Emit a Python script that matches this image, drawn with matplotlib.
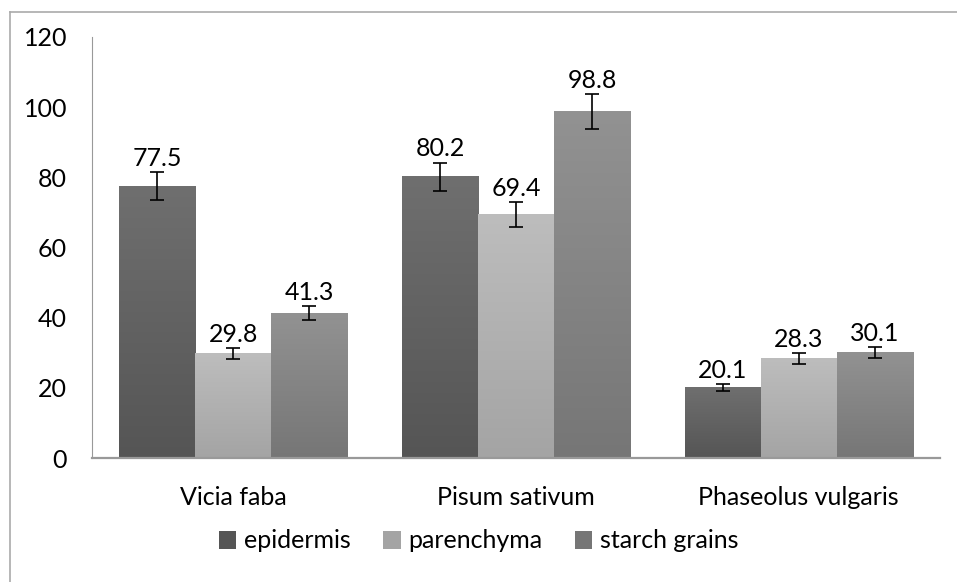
import numpy as np
import matplotlib.pyplot as plt
from matplotlib.colors import LinearSegmentedColormap
from matplotlib.lines import Line2D
from matplotlib.patches import Patch

categories = ['Vicia faba', 'Pisum sativum', 'Phaseolus vulgaris']
series = ['epidermis', 'parenchyma', 'starch grains']
values = {
    'epidermis': [77.5, 80.2, 20.1],
    'parenchyma': [29.8, 69.4, 28.3],
    'starch grains': [41.3, 98.8, 30.1],
}
errors = {
    'epidermis': [3.9, 4.0, 1.1],
    'parenchyma': [1.6, 3.5, 1.5],
    'starch grains': [2.0, 5.0, 1.6],
}
yticks = [0, 20, 40, 60, 80, 100, 120]

# (bottom, top) colours of the gradient fill
grads = {
    'epidermis': ('#555555', '#6f6f6f'),
    'parenchyma': ('#a4a4a4', '#bdbdbd'),
    'starch grains': ('#767676', '#929292'),
}

plt.rcParams['font.family'] = ['Lato', 'DejaVu Sans']
fs = 18

W, H = 957, 582
fig = plt.figure(figsize=(W / 100, H / 100), dpi=100)
ax = fig.add_axes([92 / W, 1 - 458 / H, 848 / W, 421 / H])

# outer frame (only top and left edges visible)
fig.add_artist(Line2D([10 / W, 1], [1 - 12 / H, 1 - 12 / H], color='#aaaaaa', lw=1.2, transform=fig.transFigure))
fig.add_artist(Line2D([10 / W, 10 / W], [0, 1 - 12 / H], color='#aaaaaa', lw=1.2, transform=fig.transFigure))

x = np.arange(len(categories))
bw = 0.269
grad = np.linspace(0, 1, 256).reshape(-1, 1)

for i, s in enumerate(series):
    pos = x + (i - 1) * bw
    bars = ax.bar(pos, values[s], width=bw, color='none', edgecolor='none', zorder=2)
    cmap = LinearSegmentedColormap.from_list(s, [grads[s][0], grads[s][1]])
    for b in bars:
        x0, w, h = b.get_x(), b.get_width(), b.get_height()
        ax.imshow(grad, extent=[x0, x0 + w, 0, h], origin='lower', aspect='auto', cmap=cmap, zorder=2)
    ax.errorbar(pos, values[s], yerr=errors[s], fmt='none', ecolor='black', elinewidth=1.2, capsize=5, capthick=1.2, zorder=3)
    for p, v, e in zip(pos, values[s], errors[s]):
        ax.text(p, v + e + 0.6, f'{v}', ha='center', va='bottom', fontsize=fs, zorder=4)

ax.set_xlim(-0.5, 2.5)
ax.set_ylim(0, 120)
ax.set_yticks(yticks)
ax.set_xticks(x)
ax.set_xticklabels(categories)
ax.tick_params(axis='y', length=0, pad=18, labelsize=fs)
ax.tick_params(axis='x', length=0, pad=20, labelsize=fs)
for side in ['top', 'right']:
    ax.spines[side].set_visible(False)
ax.spines['left'].set_color('#999999')
ax.spines['bottom'].set_color('#999999')
ax.spines['bottom'].set_linewidth(1.6)

handles = [Patch(facecolor=grads[s][0], edgecolor='none') for s in series]
fig.legend(handles, series, loc='center', bbox_to_anchor=(0.5, 1 - 541 / H), ncol=3, frameon=False,
           fontsize=fs, handlelength=0.7, handleheight=0.7, handletextpad=0.3, columnspacing=1.3)

fig.savefig('out.png', dpi=100)
